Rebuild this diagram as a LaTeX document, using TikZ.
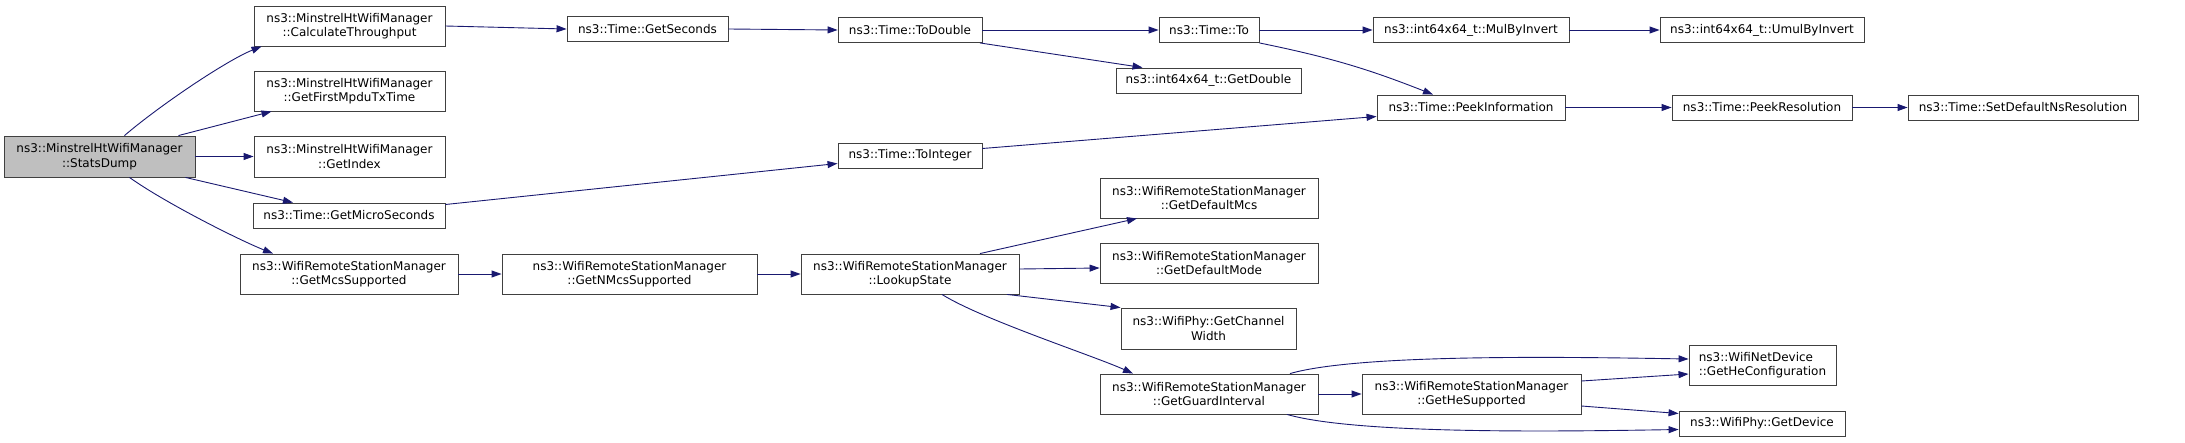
\documentclass[tikz,border=0pt]{standalone}
\usepackage{fontspec}
\setmainfont{DejaVu Sans}
\usepackage{xcolor}
\usepackage{tikz}
\usetikzlibrary{arrows.meta}
\definecolor{navy}{HTML}{191970}
\definecolor{frame}{HTML}{404040}
\definecolor{rootgray}{HTML}{BFBFBF}

\begin{document}
\begin{tikzpicture}[x=1pt,y=-1pt,
  fn/.style={rectangle,draw=frame,fill=white,line width=0.9pt,inner sep=0pt,align=center,font=\fontsize{12}{14.5}\selectfont},
  root/.style={fn,fill=rootgray},
  arr/.style={-{Triangle[length=10pt,width=7pt]},navy,line width=0.9pt}]
\useasboundingbox (0,0) rectangle (2185,442);
% column 0 and 1
\node[root,minimum width=191,minimum height=41] (sd) at (99.5,156.5) {ns3::MinstrelHtWifiManager\\::StatsDump};
\node[fn,minimum width=191,minimum height=40] (calc) at (349.5,26) {ns3::MinstrelHtWifiManager\\::CalculateThroughput};
\node[fn,minimum width=191,minimum height=40] (first) at (349.5,91) {ns3::MinstrelHtWifiManager\\::GetFirstMpduTxTime};
\node[fn,minimum width=191,minimum height=41] (idx) at (349.5,156.5) {ns3::MinstrelHtWifiManager\\::GetIndex};
\node[fn,minimum width=192,minimum height=25] (micro) at (349,215.5) {ns3::Time::GetMicroSeconds};
\node[fn,minimum width=218,minimum height=40] (mcs) at (349,274) {ns3::WifiRemoteStationManager\\::GetMcsSupported};
% column 2 and 3
\node[fn,minimum width=161,minimum height=25] (secs) at (647.5,29) {ns3::Time::GetSeconds};
\node[fn,minimum width=255,minimum height=40] (nmcs) at (629.5,274) {ns3::WifiRemoteStationManager\\::GetNMcsSupported};
\node[fn,minimum width=144,minimum height=25] (todbl) at (910,30) {ns3::Time::ToDouble};
\node[fn,minimum width=144,minimum height=25] (toint) at (910,155.5) {ns3::Time::ToInteger};
\node[fn,minimum width=218,minimum height=40] (lookup) at (910,274) {ns3::WifiRemoteStationManager\\::LookupState};
% column 4
\node[fn,minimum width=100,minimum height=25] (to) at (1209,30) {ns3::Time::To};
\node[fn,minimum width=185,minimum height=25] (getdbl) at (1208.5,80.5) {ns3::int64x64\_t::GetDouble};
\node[fn,minimum width=218,minimum height=40] (defmcs) at (1209,198) {ns3::WifiRemoteStationManager\\::GetDefaultMcs};
\node[fn,minimum width=218,minimum height=40] (defmode) at (1209,263) {ns3::WifiRemoteStationManager\\::GetDefaultMode};
\node[fn,minimum width=175,minimum height=41] (chanw) at (1208.5,328.5) {ns3::WifiPhy::GetChannel\\Width};
\node[fn,minimum width=218,minimum height=40] (guard) at (1209,394) {ns3::WifiRemoteStationManager\\::GetGuardInterval};
% column 5
\node[fn,minimum width=196,minimum height=25] (mulinv) at (1471,30) {ns3::int64x64\_t::MulByInvert};
\node[fn,minimum width=188,minimum height=25] (peekinfo) at (1471,107.5) {ns3::Time::PeekInformation};
\node[fn,minimum width=219,minimum height=40] (hesup) at (1471.5,394) {ns3::WifiRemoteStationManager\\::GetHeSupported};
% column 6 and 7
\node[fn,minimum width=204,minimum height=25] (umul) at (1762,30) {ns3::int64x64\_t::UmulByInvert};
\node[fn,minimum width=180,minimum height=25] (peekres) at (1762,107.5) {ns3::Time::PeekResolution};
\node[fn,minimum width=147,minimum height=40,align=left] (hecfg) at (1762.5,365) {ns3::WifiNetDevice\\::GetHeConfiguration};
\node[fn,minimum width=166,minimum height=25] (getdev) at (1762,423.5) {ns3::WifiPhy::GetDevice};
\node[fn,minimum width=230,minimum height=25] (setdef) at (2023,107.5) {ns3::Time::SetDefaultNsResolution};
% calls
\draw[arr] ([xshift=25]sd.north) .. controls +(35,-30) and +(-35,14) .. ([xshift=-88]calc.south);
\draw[arr] ([xshift=79]sd.north) -- ([xshift=-78]first.south);
\draw[arr] (sd.east) -- (idx.west);
\draw[arr] ([xshift=86]sd.south) -- ([xshift=-56]micro.north);
\draw[arr] ([xshift=30]sd.south) .. controls +(35,25) and +(-35,-14) .. ([xshift=-76]mcs.north);
\draw[arr] (calc.east) -- (secs.west);
\draw[arr] (secs.east) -- (todbl.west);
\draw[arr] (todbl.east) -- (to.west);
\draw[arr] ([xshift=70]todbl.south) -- ([xshift=-66]getdbl.north);
\draw[arr] (to.east) -- (mulinv.west);
\draw[arr] (to.south east) to[bend left=5] ([xshift=-38]peekinfo.north);
\draw[arr] (mulinv.east) -- (umul.west);
\draw[arr] ([yshift=11]micro.east) -- ([yshift=-8]toint.west);
\draw[arr] ([yshift=7]toint.east) -- ([yshift=-9]peekinfo.west);
\draw[arr] (peekinfo.east) -- (peekres.west);
\draw[arr] (peekres.east) -- (setdef.west);
\draw[arr] (mcs.east) -- (nmcs.west);
\draw[arr] (nmcs.east) -- (lookup.west);
\draw[arr] ([xshift=70]lookup.north) -- ([xshift=-72]defmcs.south);
\draw[arr] ([yshift=5]lookup.east) -- ([yshift=-5]defmode.west);
\draw[arr] ([xshift=97]lookup.south) -- (chanw.north west);
\draw[arr] ([xshift=32]lookup.south) .. controls +(40,25) and +(-40,-18) .. ([xshift=-76]guard.north);
\draw[arr] (guard.east) -- (hesup.west);
\draw[arr] ([xshift=81]guard.north) .. controls +(70,-20) and +(-120,-2) .. ([yshift=6]hecfg.west);
\draw[arr] ([xshift=78]guard.south) .. controls +(70,20) and +(-120,2) .. ([yshift=-6]getdev.west);
\draw[arr] ([yshift=13]hesup.east) -- ([yshift=-9]hecfg.west);
\draw[arr] ([yshift=-12]hesup.east) -- ([yshift=10]getdev.west);
\end{tikzpicture}
\end{document}
